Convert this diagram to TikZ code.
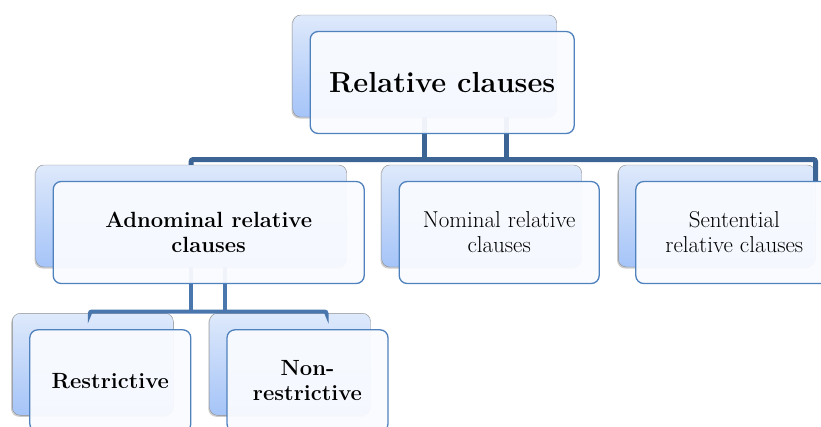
\documentclass[tikz,border=0pt]{standalone}
\usetikzlibrary{shadows}
\definecolor{railblue}{RGB}{60,100,148}
\definecolor{twigblue}{RGB}{74,118,174}
\definecolor{edgeblue}{RGB}{79,129,189}
\definecolor{shadetop}{RGB}{222,233,251}
\definecolor{shadebot}{RGB}{165,196,248}
\definecolor{paper}{RGB}{249,251,255}

\begin{document}
\begin{tikzpicture}[x=1pt, y=-1pt,
    backbox/.style={draw=black!45, rounded corners=8pt, top color=shadetop, bottom color=shadebot,
        minimum height=102pt, inner sep=0pt,
        drop shadow={shadow xshift=-1.2pt, shadow yshift=-1.5pt, opacity=0.4}},
    frontbox/.style={draw=edgeblue, line width=1.3pt, rounded corners=8pt, fill=paper,
        fill opacity=0.95, text opacity=1, minimum height=102pt, inner sep=0pt, align=center,
        font=\fontsize{23}{25}\selectfont},
    boldbox/.style={frontbox, font=\fontsize{22}{25}\selectfont\bfseries},
    trunk/.style={draw=railblue, line width=5pt, rounded corners=2pt},
    twig/.style={draw=twigblue, line width=4pt, rounded corners=2pt}]
    \useasboundingbox (0,0) rectangle (821,426);
    \clip (0,0) rectangle (821,426);

    % back layer
    \node [backbox, minimum width=264pt] (topback) at (424.7,66) {};
    \node [backbox, minimum width=311pt] (adnback) at (191.2,216) {};
    \node [backbox, minimum width=200pt] (nomback) at (481.7,216) {};
    \node [backbox, minimum width=197pt] (sentback) at (716.8,216) {};
    \node [backbox, minimum width=161pt] (resback) at (92.8,364.3) {};
    \node [backbox, minimum width=161pt] (nonback) at (290,364.3) {};

    % connectors
    \coordinate (rail) at (0,159.5);
    \coordinate (tap) at ([xshift=82pt]topback.south);
    \draw [trunk] (topback.south) -- (topback.south |- rail);
    \draw [trunk] (tap) -- (tap |- rail);
    \draw [trunk] (adnback.north) |- (rail -| sentback.east) -- ([yshift=-17pt]sentback.north east);

    \coordinate (twigrail) at (0,311.5);
    \coordinate (twigtap) at ([xshift=34pt]adnback.south);
    \coordinate (twigend) at ([xshift=36.5pt]nonback.north);
    \draw [twig] (adnback.south) -- (adnback.south |- twigrail);
    \draw [twig] (twigtap) -- (twigtap |- twigrail);
    \draw [twig] ([xshift=-3pt]resback.north) |- (twigrail -| twigend) -- (twigend);

    % front layer
    \node [frontbox, minimum width=264pt, font=\fontsize{29}{34}\selectfont\bfseries] (topfront) at (442.2,82.5) {Relative clauses};
    \node [boldbox, minimum width=311pt] (adnfront) at (208.7,232.5) {Adnominal relative\\clauses};
    \node [frontbox, minimum width=200pt] (nomfront) at (499.2,232.5) {Nominal relative\\clauses};
    \node [frontbox, minimum width=197pt] (sentfront) at (734.3,232.5) {Sentential\\relative clauses};
    \node [boldbox, minimum width=161pt] (resfront) at (110.3,380.8) {Restrictive};
    \node [boldbox, minimum width=161pt] (nonfront) at (307.5,380.8) {Non-\\restrictive};
\end{tikzpicture}
\end{document}
